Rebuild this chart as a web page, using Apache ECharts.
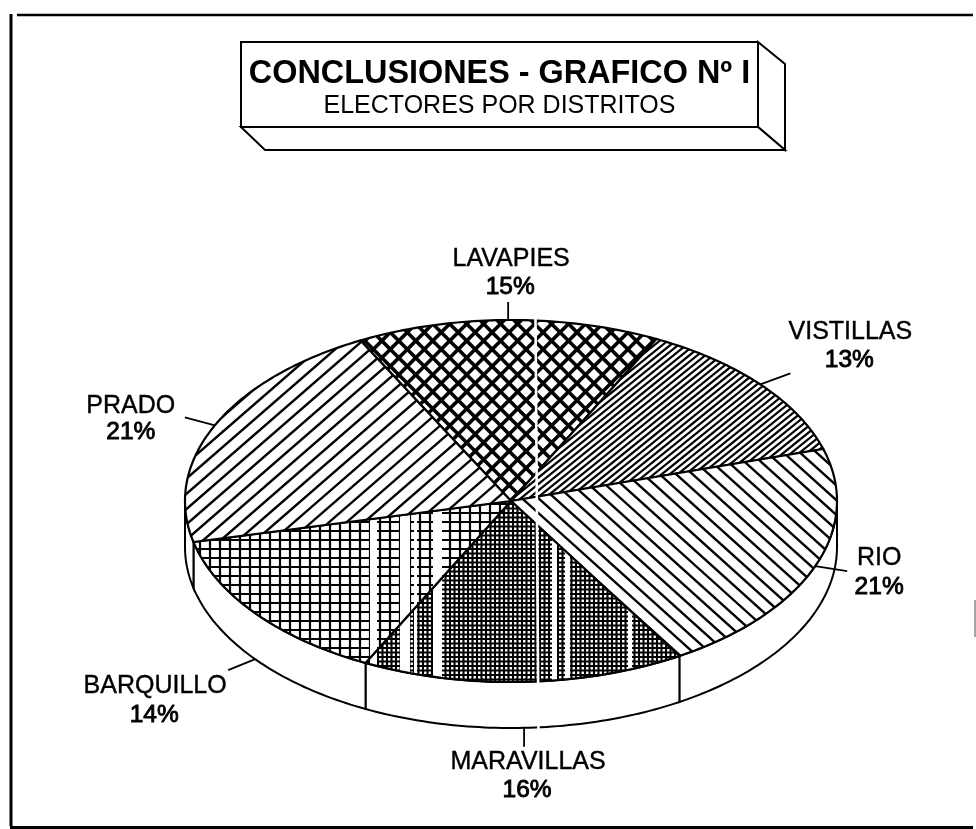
<!DOCTYPE html>
<html>
<head>
<meta charset="utf-8">
<style>html,body{margin:0;padding:0;background:#fff}#c{width:976px;height:829px}</style>
<script src="https://cdn.jsdelivr.net/npm/echarts@6/dist/echarts.min.js"></script>
</head>
<body>
<div id="c"></div>
<script>
// ---- data ----
const categories = ['LAVAPIES', 'VISTILLAS', 'RIO', 'MARAVILLAS', 'BARQUILLO', 'PRADO'];
const shares = [15, 13, 21, 16, 14, 21];
const titleText = 'CONCLUSIONES - GRAFICO Nº I';
const subtitleText = 'ELECTORES POR DISTRITOS';

// ---- layout ----
const W = 976, H = 829;
const CX = 511, CY = 501, RX = 326, RY = 181, DEPTH = 46, START = -27.5;
const FONT = '"Liberation Sans", Arial, sans-serif';
// offsets from each slice's rim anchor: leader end, name centre, percent centre
const leaderEnd = [[0, -18], [30, -11], [32, 5], [0, 19], [-27, 11], [-30, -8]];
const nameOffset = [[3, -61], [90, -52], [64, -8], [4, 34], [-100, 27], [-84, -19]];
const pctOffset = [[2, -33], [89, -24], [64, 21], [3, 62], [-101, 56], [-84, 7]];
const anchorOnLowerRim = [false, false, false, true, true, false];

// ---- hatch patterns ----
function canvasOf() {
  const c = document.createElement('canvas'); c.width = W; c.height = H;
  const g = c.getContext('2d'); g.fillStyle = '#fff'; g.fillRect(0, 0, W, H);
  g.strokeStyle = '#000'; return [c, g];
}
function diagonal(g, deg, step, lw) {   // lines at deg, spaced step px measured perpendicular
  const a = deg * Math.PI / 180, ux = Math.cos(a), uy = Math.sin(a), nx = -uy, ny = ux;
  const L = W + H; g.lineWidth = lw;
  for (let d = -L; d <= L; d += step) {
    g.beginPath();
    g.moveTo(nx * d - ux * L, ny * d - uy * L);
    g.lineTo(nx * d + ux * L, ny * d + uy * L);
    g.stroke();
  }
}
function grid(g, sx, sy, lw) {
  g.lineWidth = lw;
  for (let x = 0; x <= W; x += sx) { g.beginPath(); g.moveTo(x, 0); g.lineTo(x, H); g.stroke(); }
  for (let y = 0; y <= H; y += sy) { g.beginPath(); g.moveTo(0, y); g.lineTo(W, y); g.stroke(); }
}
function stripes(g, list) { g.fillStyle = '#fff'; list.forEach(s => g.fillRect(s[0], 0, s[1], H)); }
const copyStreaks = [[370, 7], [400, 10], [414, 3], [433, 9], [552, 5], [565, 5], [628, 4]];
function makePatterns() {
  const out = [];
  let [c, g] = canvasOf(); diagonal(g, 45, 12, 3.6); diagonal(g, -45, 12, 3.6); out.push(c);
  [c, g] = canvasOf(); diagonal(g, -39, 5, 2.2); out.push(c);
  [c, g] = canvasOf(); diagonal(g, 42, 11, 2.4); out.push(c);
  [c, g] = canvasOf(); grid(g, 4.5, 4.5, 2.1); stripes(g, copyStreaks); out.push(c);
  [c, g] = canvasOf(); grid(g, 10, 9, 2.2); stripes(g, copyStreaks); out.push(c);
  [c, g] = canvasOf(); diagonal(g, -41, 11.5, 2.4); out.push(c);
  return out;
}
const patterns = makePatterns();

// ---- geometry from the values ----
const total = shares.reduce((a, b) => a + b, 0);
function pt(deg, dy) {
  const a = deg * Math.PI / 180;
  return [CX + RX * Math.sin(a), CY - RY * Math.cos(a) + (dy || 0)];
}
function arc(a0, a1, dy) {
  const n = Math.max(2, Math.ceil(Math.abs(a1 - a0))), p = [];
  for (let i = 0; i <= n; i++) p.push(pt(a0 + (a1 - a0) * i / n, dy));
  return p;
}
function renderSlice(params, api) {
  const i = params.dataIndex;
  let before = 0;
  for (let k = 0; k < i; k++) before += shares[k];
  const a0 = START + before / total * 360;
  const a1 = a0 + api.value(0) / total * 360;
  const mid = (a0 + a1) / 2;
  const kids = [];
  // front wall
  const w0 = Math.max(a0, 90), w1 = Math.min(a1, 270);
  if (w1 > w0) {
    kids.push({
      type: 'polygon', z2: 1,
      shape: { points: arc(w0, w1, 0).concat(arc(w1, w0, DEPTH)) },
      style: { fill: '#fff', stroke: '#000', lineWidth: 2 }
    });
  }
  // top surface
  kids.push({
    type: 'polygon', z2: 2,
    shape: { points: [[CX, CY]].concat(arc(a0, a1, 0)) },
    style: { fill: { image: patterns[i], repeat: 'repeat' }, stroke: '#000', lineWidth: 2.2 }
  });
  // leader + labels
  const an = pt(mid, anchorOnLowerRim[i] ? DEPTH : 0);
  kids.push({
    type: 'line', z2: 3,
    shape: { x1: an[0], y1: an[1], x2: an[0] + leaderEnd[i][0], y2: an[1] + leaderEnd[i][1] },
    style: { stroke: '#000', lineWidth: 1.8 }
  });
  kids.push({
    type: 'text', z2: 4,
    style: {
      text: categories[i],
      x: an[0] + nameOffset[i][0], y: an[1] + nameOffset[i][1],
      align: 'center', verticalAlign: 'middle', fill: '#000',
      font: '25px ' + FONT, stroke: '#000', lineWidth: 0.4
    }
  });
  kids.push({
    type: 'text', z2: 4,
    style: {
      text: shares[i] + '%',
      x: an[0] + pctOffset[i][0], y: an[1] + pctOffset[i][1],
      align: 'center', verticalAlign: 'middle', fill: '#000',
      font: '24.5px ' + FONT, stroke: '#000', lineWidth: 0.9
    }
  });
  return { type: 'group', children: kids };
}

const chart = echarts.init(document.getElementById('c'), null, { renderer: 'canvas' });
function line(x1, y1, x2, y2, w, col) {
  return { type: 'line', silent: true, z: 1, shape: { x1, y1, x2, y2 }, style: { stroke: col || '#000', lineWidth: w } };
}
function box(points) {
  return { type: 'polygon', silent: true, z: 1, shape: { points }, style: { fill: '#fff', stroke: '#000', lineWidth: 2 } };
}
chart.setOption({
  animation: false,
  backgroundColor: '#fff',
  title: [
    { text: titleText, left: 494.5, top: 69, textAlign: 'center', textVerticalAlign: 'middle', z: 5,
      textStyle: { fontFamily: FONT, fontWeight: 'bold', fontSize: 32.4, color: '#000' } },
    { text: subtitleText, left: 494.5, top: 101, textAlign: 'center', textVerticalAlign: 'middle', z: 5,
      textStyle: { fontFamily: FONT, fontWeight: 'normal', fontSize: 25, color: '#000' } }
  ],
  graphic: [
    line(17, 15, 973, 15, 2.5),
    line(11, 14, 11, 826, 3),
    line(10, 827.5, 973, 827.5, 3),
    line(975, 600, 975, 637, 1.5, '#888'),
    box([[758, 42], [785, 64], [785, 150], [758, 127]]),
    box([[241, 127], [758, 127], [785, 150], [265, 150]]),
    box([[241, 42], [758, 42], [758, 127], [241, 127]]),
    { type: 'line', silent: true, z: 100, shape: { x1: 535.5, y1: 318, x2: 538.5, y2: 732 }, style: { stroke: '#fff', lineWidth: 2.6 } }
  ],
  series: [{
    type: 'custom',
    coordinateSystem: 'none',
    silent: true,
    clip: false,
    renderItem: renderSlice,
    data: categories.map((n, i) => ({ name: n, value: [shares[i]] }))
  }]
});
</script>
</body>
</html>
